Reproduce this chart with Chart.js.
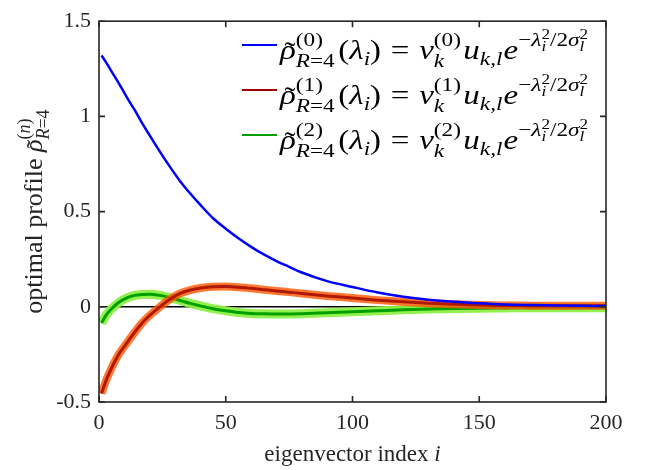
<!DOCTYPE html>
<html>
<head>
<meta charset="utf-8">
<script src="https://cdn.jsdelivr.net/npm/chart.js"></script>
<style>
  body { margin: 0; background: #fff; }
  canvas { display: block; }
</style>
</head>
<body>
<canvas id="c" width="647" height="470"></canvas>
<script>
// eigenvector index i (sample positions)
const idx = [1, 3, 5, 8, 11, 14, 17, 20, 24, 28, 32, 36, 40, 45, 50, 55, 60, 65, 70, 75, 80, 90, 100, 110, 120, 130, 140, 150, 160, 170, 180, 190, 200];
// optimal profiles n = 0, 1, 2
const rho0 = [1.32, 1.28, 1.235, 1.17, 1.10, 1.035, 0.965, 0.90, 0.815, 0.735, 0.66, 0.595, 0.535, 0.465, 0.41, 0.36, 0.315, 0.275, 0.24, 0.21, 0.18, 0.135, 0.104, 0.075, 0.053, 0.037, 0.026, 0.018, 0.012, 0.009, 0.007, 0.005, 0.004];
const rho1 = [-0.455, -0.38, -0.32, -0.245, -0.19, -0.135, -0.085, -0.045, 0.0, 0.04, 0.07, 0.088, 0.099, 0.105, 0.106, 0.103, 0.097, 0.09, 0.083, 0.077, 0.07, 0.057, 0.046, 0.035, 0.026, 0.019, 0.013, 0.009, 0.007, 0.006, 0.005, 0.005, 0.005];
const rho2 = [-0.085, -0.04, -0.01, 0.025, 0.047, 0.06, 0.065, 0.066, 0.06, 0.048, 0.033, 0.018, 0.005, -0.01, -0.021, -0.03, -0.035, -0.037, -0.038, -0.038, -0.036, -0.031, -0.026, -0.021, -0.016, -0.012, -0.009, -0.007, -0.006, -0.005, -0.005, -0.005, -0.005];
const xTicks = [0, 50, 100, 150, 200];
const yTicks = [-0.5, 0, 0.5, 1, 1.5];
const legendIdx = ["0", "1", "2"];
const legendColors = ["#0000ff", "#a00000", "#00a000"];

const FONT = '"Liberation Serif", "Times New Roman", serif';
const AXIS = "#262626";

const pts = ys => idx.map((x, k) => ({ x: x, y: ys[k] }));

// draws a run of math-ish text; numbers are gaps, groups {up, dn} are stacked scripts
function drawMath(ctx, x, y, toks, draw) {
  let cx = x;
  const seq = (runs, sx) => {
    let px = sx;
    for (const r of runs) {
      if (typeof r === "number") { px += r; continue; }
      const [t, sz, dy, it] = r;
      ctx.font = (it ? "italic " : "") + sz + "px " + FONT;
      if (draw) ctx.fillText(t, px, y + dy);
      px += ctx.measureText(t).width;
    }
    return px;
  };
  for (const tok of toks) {
    if (typeof tok === "number") cx += tok;
    else if (Array.isArray(tok)) cx = seq([tok], cx);
    else cx = Math.max(seq(tok.up, cx), seq(tok.dn, cx));
  }
  return cx - x;
}

const tildeRho = b => ({ up: [b * 0.14, ["˜", b, b * 0.06]], dn: [["ρ", b, 0, 1]] });

function legendToks(n) {
  const B = 27, S = 19, T = 14;
  return [
    tildeRho(B),
    { up: [["(" + n + ")", S, -13]], dn: [["R", S, 8, 1], ["=4", S, 8]] },
    3, ["(", B, 0], ["λ", B, 0, 1], ["i", S, 6, 1], [")", B, 0],
    8, ["=", B, 0], 8,
    ["ν", B, 0, 1],
    { up: [["(" + n + ")", S, -13]], dn: [["k", S, 8, 1]] },
    2, ["u", B, 0, 1], ["k,l", S, 6, 1], 1,
    ["e", B, 0, 1],
    ["−", S, -13], ["λ", S, -13, 1],
    { up: [["2", T, -20]], dn: [["i", T, -8, 1]] },
    ["/2", S, -13], ["σ", S, -13, 1],
    { up: [["2", T, -20]], dn: [["l", T, -8, 1]] }
  ];
}

const decor = {
  id: "decor",
  beforeDatasetsDraw(chart) {
    const ctx = chart.ctx, a = chart.chartArea, y0 = chart.scales.y.getPixelForValue(0);
    ctx.save();
    ctx.strokeStyle = "#000";
    ctx.lineWidth = 1.5;
    ctx.beginPath();
    ctx.moveTo(a.left, y0);
    ctx.lineTo(a.right, y0);
    ctx.stroke();
    ctx.restore();
  },
  afterDatasetsDraw(chart) {
    const ctx = chart.ctx, a = chart.chartArea, sx = chart.scales.x, sy = chart.scales.y;
    ctx.save();
    ctx.strokeStyle = AXIS;
    ctx.lineWidth = 1.6;
    ctx.strokeRect(a.left, a.top, a.right - a.left, a.bottom - a.top);
    ctx.beginPath();
    for (const v of xTicks) {
      const p = sx.getPixelForValue(v);
      ctx.moveTo(p, a.bottom); ctx.lineTo(p, a.bottom - 6);
      ctx.moveTo(p, a.top); ctx.lineTo(p, a.top + 6);
    }
    for (const v of yTicks) {
      const p = sy.getPixelForValue(v);
      ctx.moveTo(a.left, p); ctx.lineTo(a.left + 6, p);
      ctx.moveTo(a.right, p); ctx.lineTo(a.right - 6, p);
    }
    ctx.stroke();

    // legend (text stretched to the width of the original typeset legend)
    ctx.fillStyle = "#000";
    ctx.textBaseline = "alphabetic";
    legendIdx.forEach((n, k) => {
      const ly = 45 + k * 45;
      ctx.strokeStyle = legendColors[k];
      ctx.lineWidth = 2;
      ctx.beginPath();
      ctx.moveTo(242, ly); ctx.lineTo(277, ly);
      ctx.stroke();
      const toks = legendToks(n);
      const w = drawMath(ctx, 0, 0, toks, false);
      ctx.save();
      ctx.translate(280, ly + 14);
      ctx.scale(308 / w, 1);
      drawMath(ctx, 0, 0, toks, true);
      ctx.restore();
    });

    // axis titles
    ctx.fillStyle = AXIS;
    const xt = [["eigenvector index ", 23, 0], ["i", 23, 0, 1]];
    const xw = drawMath(ctx, 0, 0, xt, false);
    drawMath(ctx, (a.left + a.right) / 2 - xw / 2, 461, xt, true);

    const yt = [
      ["optimal profile ", 26, 0], tildeRho(26),
      { up: [["(", 18, -12], ["n", 18, -12, 1], [")", 18, -12]], dn: [["R", 18, 7, 1], ["=4", 18, 7]] }
    ];
    const yw = drawMath(ctx, 0, 0, yt, false);
    ctx.translate(42, (a.top + a.bottom) / 2 + yw / 2);
    ctx.rotate(-Math.PI / 2);
    drawMath(ctx, 0, 0, yt, true);
    ctx.restore();
  }
};

const line = (data, color, width) => ({
  data: data,
  borderColor: color,
  borderWidth: width,
  pointRadius: 0,
  fill: false,
  tension: 0.4,
  cubicInterpolationMode: "monotone"
});

const chart = new Chart(document.getElementById("c").getContext("2d"), {
  type: "line",
  data: {
    datasets: [
      line(pts(rho0), "#0000ff", 2.5),
      line(pts(rho1), "#b01800", 3),
      line(pts(rho1), "rgba(255, 85, 0, 0.8)", 8),
      line(pts(rho2), "#00a000", 3),
      line(pts(rho2), "rgba(140, 240, 70, 0.95)", 9)
    ]
  },
  options: {
    responsive: false,
    animation: false,
    layout: { padding: { left: 0, right: 41, top: 13, bottom: 0 } },
    plugins: { legend: { display: false }, tooltip: { enabled: false } },
    scales: {
      x: {
        type: "linear",
        min: 0, max: 200,
        grid: { display: false, drawTicks: false },
        border: { display: false },
        ticks: { stepSize: 50, padding: 8, color: AXIS, font: { family: FONT, size: 22 }, callback: v => String(v) },
        afterFit: s => { s.height = 68; }
      },
      y: {
        min: -0.5, max: 1.5,
        grid: { display: false, drawTicks: false },
        border: { display: false },
        ticks: { stepSize: 0.5, padding: 8, color: AXIS, font: { family: FONT, size: 22 }, callback: v => String(v) },
        afterFit: s => { s.width = 99; }
      }
    }
  },
  plugins: [decor]
});
</script>
</body>
</html>
